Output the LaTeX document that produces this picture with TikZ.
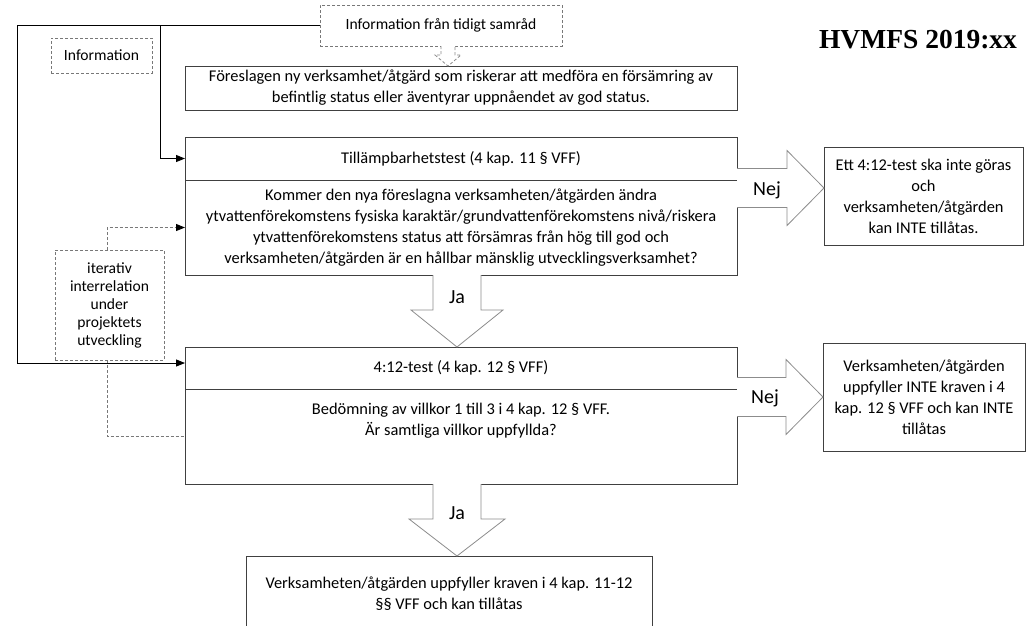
\documentclass[tikz,border=0pt]{standalone}
\usepackage{fontspec}
\setmainfont{Carlito}
\newfontfamily\titlefont{Liberation Serif}
\usepackage{tikz}
\usetikzlibrary{arrows.meta,positioning,calc}
\definecolor{BoxGrey}{RGB}{64,64,64}
\definecolor{DashGrey}{RGB}{120,120,120}
\definecolor{ArrowGrey}{RGB}{140,140,140}

\begin{document}
\begin{tikzpicture}[x=1pt, y=-1pt,
    box/.style={draw=BoxGrey, fill=white, line width=0.9pt, outer sep=0pt, inner sep=2pt, align=center, font=\fontsize{16.4}{21}\selectfont},
    note/.style={draw=DashGrey, dash pattern=on 3pt off 2pt, line width=0.9pt, outer sep=0pt, inner sep=2pt, align=center, font=\fontsize{15.6}{18}\selectfont},
    arrow/.style={-{Triangle[length=9pt, width=7pt, color=black]}, line width=0.9pt, draw=black},
    darrow/.style={arrow, draw=DashGrey, dash pattern=on 3pt off 2pt},
    dline/.style={draw=DashGrey, line width=0.9pt, dash pattern=on 3pt off 2pt},
    barrow/.style={draw=ArrowGrey, fill=white, line width=0.8pt, line join=miter},
    lab/.style={font=\fontsize{20}{22}\selectfont, inner sep=0pt}
  ]
    \useasboundingbox (0,0) rectangle (1030,625);

    % main column
    \node[box, minimum width=552pt, minimum height=44pt] (fores) at (461,88) {Föreslagen ny verksamhet/åtgärd som riskerar att medföra en försämring av\\befintlig status eller äventyrar uppnåendet av god status.};
    \node[box, minimum width=552pt, minimum height=43pt, below=27pt of fores] (t1) {Tillämpbarhetstest (4 kap. 11 § VFF)};
    \node[box, minimum width=552pt, minimum height=95pt, below=0pt of t1] (q1) {Kommer den nya föreslagna verksamheten/åtgärden ändra\\ytvattenförekomstens fysiska karaktär/grundvattenförekomstens nivå/riskera\\ytvattenförekomstens status att försämras från hög till god och\\verksamheten/åtgärden är en hållbar mänsklig utvecklingsverksamhet?};
    \node[box, minimum width=552pt, minimum height=42pt, below=72pt of q1] (t2) {4:12-test (4 kap. 12 § VFF)};
    \node[box, minimum width=552pt, minimum height=95pt, below=0pt of t2] (q2) {};
    \node[align=center, font=\fontsize{16.4}{21}\selectfont, below=11pt of q2.north] (q2t) {Bedömning av villkor 1 till 3 i 4 kap. 12 § VFF.\\Är samtliga villkor uppfyllda?};
    \node[box, minimum width=406pt, minimum height=75pt, below=72pt of q2, xshift=-12pt] (final) {Verksamheten/åtgärden uppfyller kraven i 4 kap. 11-12\\§§ VFF och kan tillåtas};

    % outcomes
    \node[box, minimum width=199pt, minimum height=98pt] (r1) at (923.5,196) {Ett 4:12-test ska inte göras\\och\\verksamheten/åtgärden\\kan INTE tillåtas.};
    \node[box, minimum width=202pt, minimum height=108pt] (r2) at (924,397) {Verksamheten/åtgärden\\uppfyller INTE kraven i 4\\kap. 12 § VFF och kan INTE\\tillåtas};

    % dashed notes
    \node[note, minimum width=242pt, minimum height=41pt] (early) at (441,25.5) {Information från tidigt samråd};
    \node[note, minimum width=101pt, minimum height=35pt] (info) at (101.5,55.5) {Information};
    \node[note, minimum width=109pt, minimum height=110pt] (iter) at (109.5,305) {iterativ\\interrelation\\under\\projektets\\utveckling};
    \node[font=\titlefont\bfseries\fontsize{27.5}{30}\selectfont, inner sep=0pt] (hvmfs) at (918,40) {HVMFS 2019:xx};

    % feedback lines
    \coordinate (c1) at (17,25.5);
    \coordinate (c2) at (160,25.5);
    \draw[arrow] (early.west) -- (c1) |- ($(t2.west)+(0,-5)$);
    \draw[arrow] (c2) |- (t1.west);
    \draw[darrow] ($(iter.north)+(-2.5,0)$) |- (q1.west);
    \draw[dline] ($(iter.south)+(-2.5,0)$) |- (q2.west);

    % block arrows
    \coordinate (n1) at ($(t1.south east)+(0,8)$);
    \coordinate (n2) at ($(t2.south east)+(0,8)$);
    \coordinate (j1) at ($(q1.south)+(-4,0)$);
    \coordinate (j2) at ($(q2.south)+(-4,0)$);
    \coordinate (e1) at ($(early.south)+(7,0)$);
    \draw[barrow] ($(n1)+(0,-19.5)$) -| ($(r1.west |- n1)+(-37,-37.5)$) -- (r1.west |- n1) -- ++(-37,37.5) |- ($(n1)+(0,19.5)$);
    \draw[barrow] ($(n2)+(0,-19.5)$) -| ($(r2.west |- n2)+(-37,-37.5)$) -- (r2.west |- n2) -- ++(-37,37.5) |- ($(n2)+(0,19.5)$);
    \draw[barrow] ($(j1)+(-24,0)$) |- ($(j1 |- t2.north)+(-46,-37)$) -- (j1 |- t2.north) -- ++(46,-37) -| ($(j1)+(24,0)$);
    \draw[barrow] ($(j2)+(-24,0)$) |- ($(j2 |- final.north)+(-48,-37)$) -- (j2 |- final.north) -- ++(48,-37) -| ($(j2)+(24,0)$);
    \draw[barrow, dash pattern=on 3pt off 2pt] ($(e1)+(-7,0)$) |- ($(e1 |- fores.north)+(-13,-11)$) -- (e1 |- fores.north) -- ++(13,-11) -| ($(e1)+(7,0)$);

    \node[lab] (nej1) at ($(n1)+(30,2)$) {Nej};
    \node[lab] (nej2) at ($(n2)+(28,1)$) {Nej};
    \node[lab] (ja1) at ($(j1)+(0,22)$) {Ja};
    \node[lab] (ja2) at ($(j2)+(0,29)$) {Ja};
  \end{tikzpicture}
\end{document}
